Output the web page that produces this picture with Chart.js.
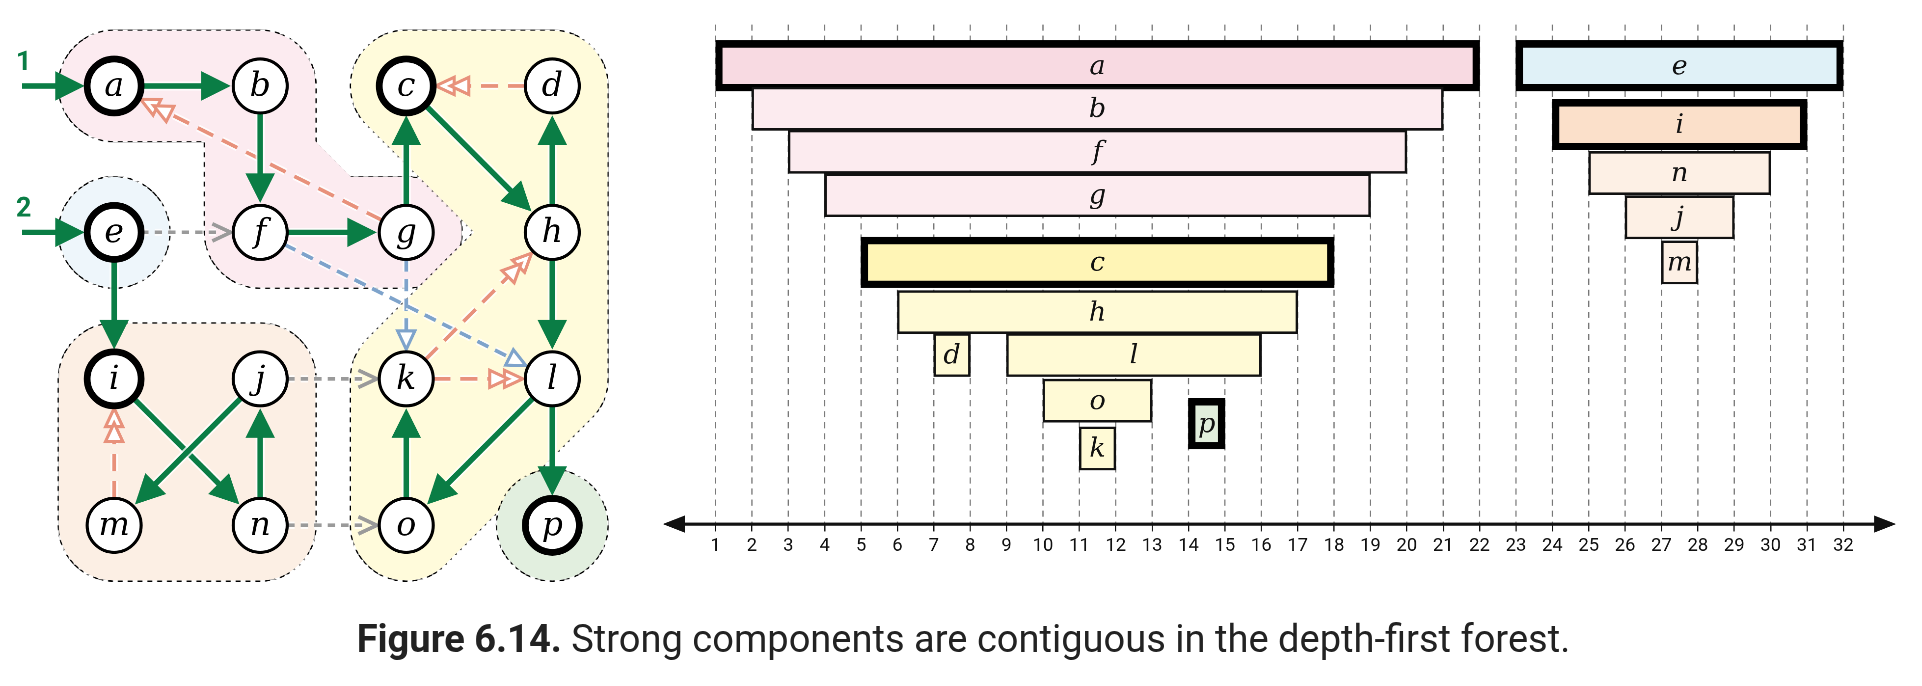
<!DOCTYPE html>
<html><head><meta charset="utf-8">
<script src="https://cdn.jsdelivr.net/npm/chart.js@4.4.0/dist/chart.umd.min.js"></script>
<style>
body{margin:0;background:#fff;width:1922px;height:686px;position:relative;overflow:hidden}
#wrap{position:absolute;left:0;top:0;width:1566px;height:560px;transform:scale(1.2273);transform-origin:0 0}
#g{position:absolute;left:0;top:0}
#f{position:absolute;left:530px;top:0}
#cap{position:absolute;left:0;width:1570px;top:502px;text-align:center;font:31px Roboto,sans-serif;color:#222}
</style></head><body>
<div id="wrap">
<canvas id="g" width="530" height="480" style="width:530px;height:480px"></canvas>
<canvas id="f" width="1036" height="480" style="width:1036px;height:480px"></canvas>
<div id="cap"><b>Figure 6.14.</b> Strong components are contiguous in the depth-first forest.</div>
</div>
<script>
// graph
const nodes = ["a","b","c","d","e","f","g","h","i","j","k","l","m","n","o","p"];
const nodeCol = [0,1,2,3,0,1,2,3,0,1,2,3,0,1,2,3];
const nodeRow = [0,0,0,0,1,1,1,1,2,2,2,2,3,3,3,3];
const roots = ["a","c","e","i","p"];
const treeEdges = [["a","b"],["b","f"],["f","g"],["g","c"],["c","h"],["h","d"],["h","l"],["l","o"],["o","k"],["l","p"],["e","i"],["i","n"],["n","j"],["j","m"]];
const backEdges = [["g","a"],["d","c"],["k","h"],["k","l"],["m","i"]];
const forwardEdges = [["g","k"],["f","l"]];
const crossEdges = [["e","f"],["j","k"],["n","o"]];
const starts = [["1","a"],["2","e"]];

// intervals
const names = ["a","b","f","g","c","h","d","l","o","k","p","e","i","n","j","m"];
const pre  = [1,2,3,4,5,6,7,9,10,11,14,23,24,25,26,27];
const post = [22,21,20,19,18,17,8,16,13,12,15,32,31,30,29,28];
const level = [0,0.97,1.94,2.92,4.44,5.56,6.53,6.53,7.56,8.64,8.08,0,1.33,2.42,3.42,4.44];
const fills = ["#f8dae2","#fcebef","#fcebef","#fcebef","#fff5b6","#fffad6","#fffad6","#fffad6","#fffad6","#fffad6","#e1eedc","#e0f1f7","#fbe0ca","#fdf0e5","#fdf0e5","#fdf0e5"];
const ticks = Array.from({length:32},(_, i) => i + 1);

const GREEN="#0a7d45", SALMON="#e8917b", BLUE="#7ea3cb", GRAY="#9a9a9a";
const R = 22, DPR = 2.5;

function pos(chart, n) {
  const i = nodes.indexOf(n);
  return [chart.scales.x.getPixelForValue(nodeCol[i]), chart.scales.y.getPixelForValue(nodeRow[i])];
}

function blobRing(ctx, w, h, shape, fill, rad) {
  const off = document.createElement("canvas");
  off.width = w * DPR; off.height = h * DPR;
  const o = off.getContext("2d");
  o.scale(DPR, DPR);
  o.lineJoin = "round"; o.lineCap = "round";
  o.fillStyle = o.strokeStyle = "#000";
  shape(o, rad + 1.1);
  o.globalCompositeOperation = "destination-out";
  shape(o, rad);
  o.globalCompositeOperation = "destination-in";
  const pc = document.createElement("canvas");
  pc.width = pc.height = 8;
  const p = pc.getContext("2d");
  p.fillRect(0, 0, 4, 4); p.fillRect(4, 4, 4, 4);
  o.fillStyle = o.createPattern(pc, "repeat");
  o.fillRect(0, 0, w, h);
  ctx.save();
  ctx.lineJoin = "round"; ctx.lineCap = "round";
  ctx.fillStyle = ctx.strokeStyle = fill;
  shape(ctx, rad);
  ctx.drawImage(off, 0, 0, w, h);
  ctx.restore();
}

function arrow(ctx, a, b, opt) {
  const dx = b[0] - a[0], dy = b[1] - a[1], L = Math.hypot(dx, dy);
  const ux = dx / L, uy = dy / L;
  const s = [a[0] + ux * (opt.r0 ?? R), a[1] + uy * (opt.r0 ?? R)];
  const e = [b[0] - ux * (R + 2), b[1] - uy * (R + 2)];
  ctx.save();
  ctx.strokeStyle = "rgba(255,255,255,0.8)";
  ctx.lineWidth = opt.w + 3;
  ctx.setLineDash(opt.dash || []);
  ctx.beginPath(); ctx.moveTo(s[0], s[1]); ctx.lineTo(e[0] - ux * 10, e[1] - uy * 10); ctx.stroke();
  ctx.strokeStyle = opt.color; ctx.lineWidth = opt.w;
  ctx.beginPath(); ctx.moveTo(s[0], s[1]); ctx.lineTo(e[0] - ux * 10, e[1] - uy * 10); ctx.stroke();
  ctx.setLineDash([]);
  const head = (tx, ty, len, hw) => {
    ctx.beginPath();
    ctx.moveTo(tx, ty);
    ctx.lineTo(tx - ux * len - uy * hw, ty - uy * len + ux * hw);
    ctx.lineTo(tx - ux * len + uy * hw, ty - uy * len - ux * hw);
    ctx.closePath();
  };
  if (opt.kind === "solid") {
    ctx.fillStyle = opt.color; head(e[0], e[1], 24, 12); ctx.fill();
  } else if (opt.kind === "open") {
    ctx.lineWidth = 3;
    ctx.beginPath();
    ctx.moveTo(e[0] - ux * 15 - uy * 7, e[1] - uy * 15 + ux * 7);
    ctx.lineTo(e[0], e[1]);
    ctx.lineTo(e[0] - ux * 15 + uy * 7, e[1] - uy * 15 - ux * 7);
    ctx.stroke();
  } else {
    const n = opt.kind === "double" ? 2 : 1;
    ctx.fillStyle = "#fff"; ctx.lineWidth = 2.5;
    for (let k = 0; k < n; k++) {
      head(e[0] - ux * 12 * k, e[1] - uy * 12 * k, 15, 7); ctx.fill(); ctx.stroke();
    }
  }
  ctx.restore();
}

const graphPlugin = {
  id: "graph",
  beforeDatasetsDraw(chart) {
    const ctx = chart.ctx, P = n => pos(chart, n);
    const W = chart.width, H = chart.height, rad = 45;
    const path = (o, pts, closed) => { o.beginPath(); pts.forEach((q, i) => i ? o.lineTo(q[0], q[1]) : o.moveTo(q[0], q[1])); if (closed) o.closePath(); };
    blobRing(ctx, W, H, (o, r) => { o.lineWidth = 2 * r; path(o, ["a","b","f","g"].map(P)); o.stroke(); path(o, ["b","g","f"].map(P), true); o.fill(); }, "#fcebf0", rad);
    blobRing(ctx, W, H, (o, r) => { o.lineWidth = 2 * r; path(o, ["c","d","l","o","k","h"].map(P), true); o.stroke(); o.fill(); }, "#fffbdb", rad);
    blobRing(ctx, W, H, (o, r) => { o.lineWidth = 2 * r; path(o, ["i","j","n","m"].map(P), true); o.stroke(); o.fill(); }, "#fcefe4", rad);
    blobRing(ctx, W, H, (o, r) => { o.beginPath(); const q = P("e"); o.arc(q[0], q[1], r, 0, 7); o.fill(); }, "#eef6fb", rad);
    blobRing(ctx, W, H, (o, r) => { o.beginPath(); const q = P("p"); o.arc(q[0], q[1], r, 0, 7); o.fill(); }, "#e2efdf", rad);
    crossEdges.forEach(([u, v]) => arrow(ctx, P(u), P(v), {color: GRAY, w: 3, dash: [6, 5], kind: "open"}));
    forwardEdges.forEach(([u, v]) => arrow(ctx, P(u), P(v), {color: BLUE, w: 3, dash: [10, 6], kind: "single"}));
    backEdges.forEach(([u, v]) => arrow(ctx, P(u), P(v), {color: SALMON, w: 3, dash: [14, 8], kind: "double"}));
    treeEdges.forEach(([u, v]) => arrow(ctx, P(u), P(v), {color: GREEN, w: 4.5, kind: "solid"}));
    starts.forEach(([lab, v]) => {
      const q = P(v);
      arrow(ctx, [q[0] - 75, q[1]], q, {color: GREEN, w: 4.5, kind: "solid", r0: 0});
      ctx.fillStyle = GREEN; ctx.font = "bold 22px Roboto, sans-serif";
      ctx.textAlign = "left"; ctx.textBaseline = "alphabetic";
      ctx.fillText(lab, q[0] - 80, q[1] - 13);
    });
  },
  afterDatasetsDraw(chart) {
    const ctx = chart.ctx;
    ctx.save();
    ctx.fillStyle = "#000"; ctx.font = "italic 27px 'DejaVu Serif', serif";
    ctx.textAlign = "center"; ctx.textBaseline = "middle";
    nodes.forEach(n => { const q = pos(chart, n); ctx.fillText(n, q[0], q[1] + 1); });
    ctx.restore();
  }
};

new Chart(document.getElementById("g"), {
  type: "scatter",
  data: {
    datasets: [{
      data: nodes.map((n, i) => ({x: nodeCol[i], y: nodeRow[i]})),
      clip: false,
      pointRadius: R, pointHoverRadius: R,
      pointBackgroundColor: "#fff", pointBorderColor: "#000",
      pointBorderWidth: nodes.map(n => roots.includes(n) ? 5.5 : 2.5)
    }]
  },
  options: {
    responsive: false, animation: false, events: [], devicePixelRatio: DPR,
    layout: {padding: {left: 93, right: 80, top: 70, bottom: 52}},
    plugins: {legend: {display: false}, tooltip: {enabled: false}},
    scales: {
      x: {type: "linear", min: 0, max: 3, display: false},
      y: {type: "linear", min: 0, max: 3, reverse: true, display: false}
    }
  },
  plugins: [graphPlugin]
});

// forest
const isRoot = names.map(n => roots.includes(n));
const mk = flag => names.map((n, i) => isRoot[i] === flag ? {x: [pre[i], post[i]], y: level[i], n: n} : null).filter(Boolean);
const fillFor = flag => names.map((n, i) => isRoot[i] === flag ? fills[i] : null).filter(Boolean);

const forestPlugin = {
  id: "forest",
  afterDatasetsDraw(chart) {
    const ctx = chart.ctx;
    ctx.save();
    ctx.fillStyle = "#111"; ctx.font = "italic 22px 'DejaVu Serif', serif";
    ctx.textAlign = "center"; ctx.textBaseline = "middle";
    chart.data.datasets.forEach((ds, di) => {
      chart.getDatasetMeta(di).data.forEach((el, j) => {
        const p = el.getProps(["x", "y", "base"], true);
        ctx.fillText(ds.data[j].n, (p.x + p.base) / 2, p.y + 1);
      });
    });
    const y = chart.chartArea.bottom, x0 = 10, x1 = 1015;
    ctx.strokeStyle = ctx.fillStyle = "#111"; ctx.lineWidth = 2.5;
    ctx.beginPath(); ctx.moveTo(x0 + 10, y); ctx.lineTo(x1 - 10, y); ctx.stroke();
    [[x0, 1], [x1, -1]].forEach(([x, d]) => {
      ctx.beginPath(); ctx.moveTo(x, y); ctx.lineTo(x + d * 18, y - 7); ctx.lineTo(x + d * 18, y + 7); ctx.closePath(); ctx.fill();
    });
    ctx.restore();
  }
};

new Chart(document.getElementById("f"), {
  type: "bar",
  data: {
    datasets: [
      {data: mk(false), backgroundColor: fillFor(false), borderColor: "#111", borderWidth: 2, borderSkipped: false, barThickness: 35},
      {data: mk(true), backgroundColor: fillFor(true), borderColor: "#000", borderWidth: 6, borderSkipped: false, barThickness: 41}
    ]
  },
  options: {
    indexAxis: "y", responsive: false, animation: false, events: [], devicePixelRatio: DPR,
    layout: {padding: {left: 53, right: 64, top: 0, bottom: 23}},
    plugins: {legend: {display: false}, tooltip: {enabled: false}},
    datasets: {bar: {grouped: false}},
    scales: {
      x: {
        type: "linear", min: 1, max: 32,
        afterFit: s => { s.height = 30; },
        afterBuildTicks: s => { s.ticks = ticks.map(v => ({value: v})); },
        border: {display: false},
        grid: {color: "#777", lineWidth: 1, tickLength: 6, drawTicks: true, tickColor: "#111"},
        ticks: {color: "#111", font: {family: "Roboto, sans-serif", size: 15}, padding: 3, maxRotation: 0, autoSkip: false}
      },
      y: {type: "linear", min: -0.64, max: 9.5, reverse: true, display: false}
    }
  },
  plugins: [forestPlugin, {
    id: "dashgrid",
    beforeDatasetsDraw(chart) {
      const ctx = chart.ctx, s = chart.scales.x, a = chart.chartArea;
      ctx.save();
      ctx.fillStyle = "#fff"; ctx.fillRect(a.left - 2, a.top, a.right - a.left + 4, a.bottom - a.top);
      ctx.strokeStyle = "#777"; ctx.lineWidth = 1; ctx.setLineDash([5, 4]);
      ticks.forEach(v => { const x = s.getPixelForValue(v); ctx.beginPath(); ctx.moveTo(x, a.top + 20); ctx.lineTo(x, a.bottom); ctx.stroke(); });
      ctx.restore();
    }
  }]
});
</script>
</body></html>
